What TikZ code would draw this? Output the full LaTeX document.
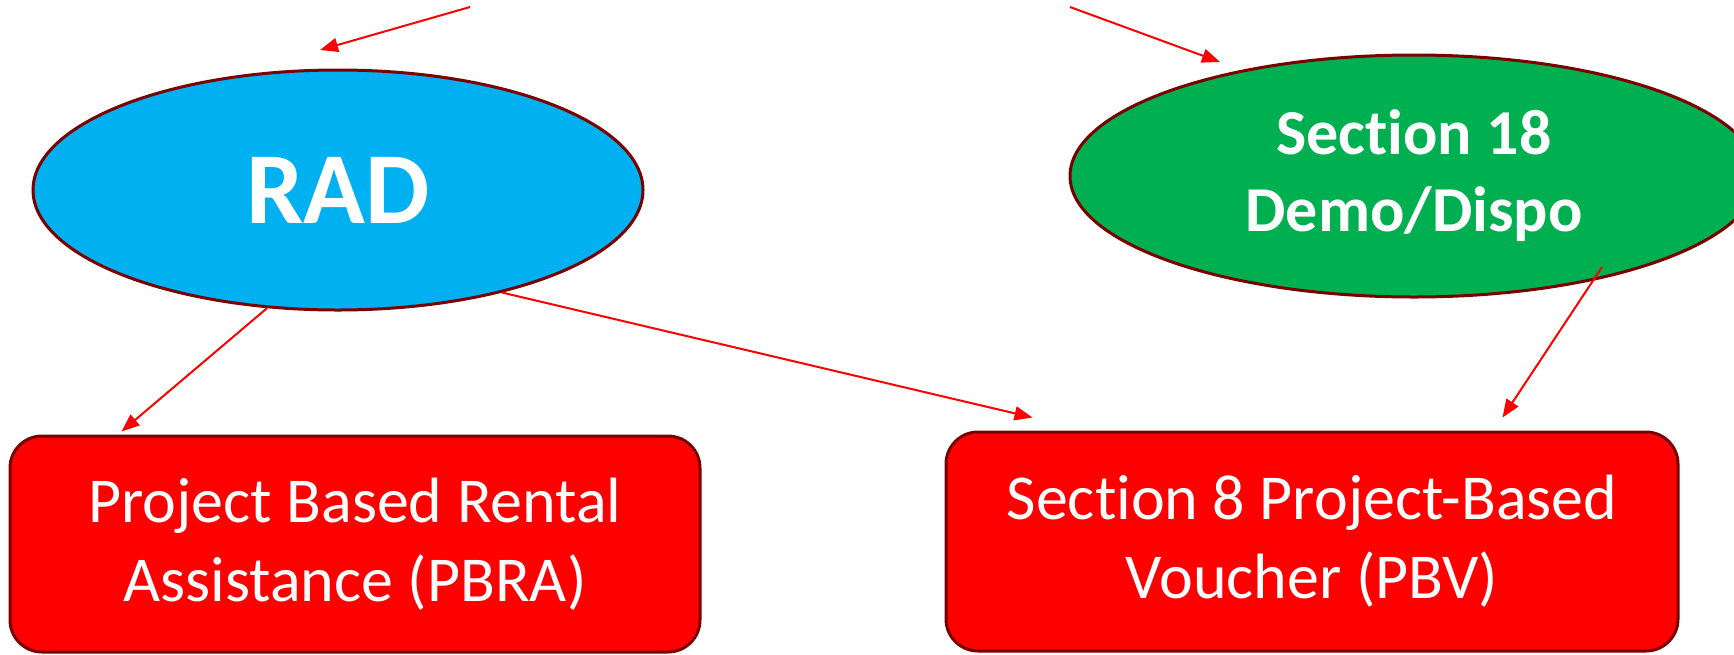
\documentclass[tikz,border=0pt]{standalone}
\usepackage{fontspec}
\setmainfont{Carlito}[Ligatures=NoCommon]
\usepackage{tikz}
\usetikzlibrary{arrows.meta,shapes.geometric,calc}
\definecolor{radblue}{HTML}{00B0F0}
\definecolor{secgreen}{HTML}{00B050}
\definecolor{boxred}{HTML}{FF0000}
\definecolor{edgered}{HTML}{7A0000}
\begin{document}
\begin{tikzpicture}[x=0.5pt, y=-0.5pt,
    prog/.style={ellipse, draw=edgered, line width=1.5pt, text=white, inner sep=0pt, align=center},
    subsidy/.style={rectangle, rounded corners=16pt, draw=edgered, line width=1.5pt, fill=boxred, text=white, align=center, inner sep=0pt, font=\fontsize{32}{39.5}\selectfont},
    link/.style={-{Triangle[length=9pt,width=7pt]}, draw=red, line width=1pt}]
    \useasboundingbox (0,0) rectangle (1734,654);
    \clip (0,0) rectangle (1734,654);
    \node[prog, fill=radblue, minimum width=305pt, minimum height=120pt, font=\bfseries\fontsize{51}{60}\selectfont] (rad) at (338,190) {RAD};
    \node[prog, fill=secgreen, minimum width=344pt, minimum height=121pt, font=\bfseries\fontsize{32}{38.5}\selectfont] (sec) at (1414,176) {Section 18\\Demo/Dispo};
    \node[subsidy, minimum width=345pt, minimum height=108pt] (pbra) at (355,544) {Project Based Rental\\Assistance (PBRA)};
    \node[subsidy, minimum width=366pt, minimum height=109.5pt] (pbv) at (1312,541.5) {Section 8 Project-Based\\Voucher (PBV)};
    % incoming from above
    \coordinate (topl) at (470,7);
    \coordinate (topr) at (1070,7);
    \draw[link] (topl) -- (320,50);
    \draw[link] (topr) -- (1220,62);
    % program to subsidy
    \draw[link] (rad.239) -- ($(pbra.north west)+(113,-3)$);
    \draw[link] (rad.328) -- ($(pbv.north west)+(88,-13)$);
    \draw[link] ($(sec)+(188,91)$) -- ($(pbv.north west)+(558,-13)$);
\end{tikzpicture}
\end{document}
